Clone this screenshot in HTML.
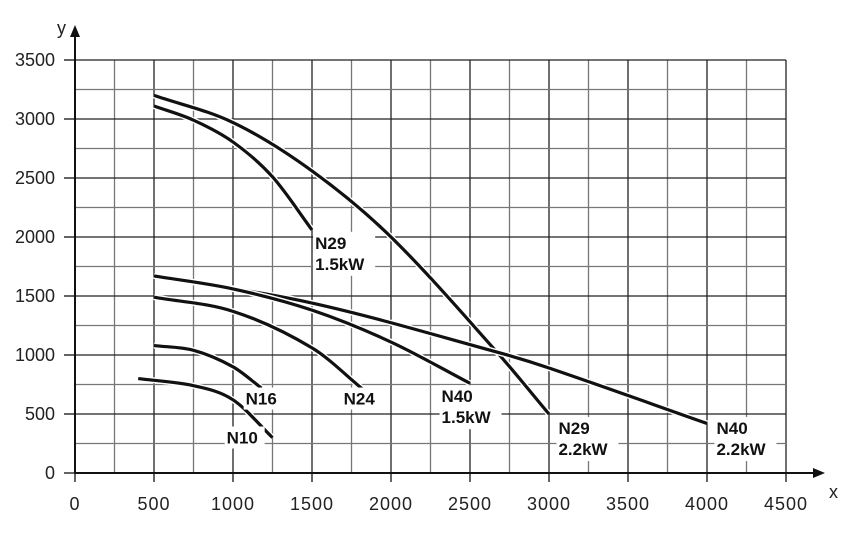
<!DOCTYPE html>
<html><head><meta charset="utf-8"><style>
body{margin:0;background:#fff}
svg{display:block;font-family:"Liberation Sans",Arial,sans-serif}
</style></head><body>
<svg id="c" width="845" height="549"></svg>
<script>
const xTicks=[0,500,1000,1500,2000,2500,3000,3500,4000,4500];
const yTicks=[0,500,1000,1500,2000,2500,3000,3500];
const seriesNames=["N29 2.2kW","N29 1.5kW","N40 2.2kW","N40 1.5kW","N24","N16","N10"];
const s29_22x=[500,1000,1500,2000,2670,3000];
const s29_22y=[3200,2970,2560,2000,1025,500];
const s29_15x=[500,750,1000,1250,1500];
const s29_15y=[3110,2990,2805,2510,2060];
const s40_22x=[500,1500,2670,3000,4000];
const s40_22y=[1670,1440,1025,890,420];
const s40_15x=[500,1000,1500,2000,2500];
const s40_15y=[1670,1560,1380,1110,760];
const s24x=[500,1000,1500,1830];
const s24y=[1490,1370,1060,700];
const s16x=[500,750,1000,1180];
const s16y=[1080,1040,900,720];
const s10x=[400,750,1000,1250];
const s10y=[800,740,620,300];
const labels=[["N29","1.5kW",1520,1900],["N16","",1080,580],["N24","",1700,580],["N40","1.5kW",2320,600],["N29","2.2kW",3060,330],["N40","2.2kW",4060,330],["N10","",960,250]];

const NS="http://www.w3.org/2000/svg";
const svg=document.getElementById('c');
const X=v=>75+v*0.158, Y=v=>473-v*0.118;
function el(t,a,p){const e=document.createElementNS(NS,t);for(const k in a)e.setAttribute(k,a[k]);(p||svg).appendChild(e);return e;}
for(let v=0;v<=4500;v+=250){const l=el('line',{x1:X(v),x2:X(v),y1:Y(3500),y2:Y(0),stroke:v%500?'#777':'#222','stroke-width':1.3});

}
for(let v=0;v<=3500;v+=250){const l=el('line',{x1:X(0),x2:X(4500),y1:Y(v),y2:Y(v),stroke:v%500?'#777':'#222','stroke-width':1.3});

}
const ax=el('path',{d:`M${X(0)},${Y(0)}H815 M${X(0)},${Y(0)}V35`,stroke:'#111','stroke-width':2,fill:'none'});


el('path',{d:'M825,473 l-12,-5 v10z',fill:'#111'});
el('path',{d:`M${X(0)},25 l-5,12 h10z`,fill:'#111'});
const xt=el('text',{x:829,y:498,'font-size':18,fill:'#222'});xt.textContent='x';


const yt=el('text',{x:57,y:34,'font-size':18,fill:'#222'});yt.textContent='y';


xTicks.forEach(v=>{el('line',{x1:X(v),x2:X(v),y1:Y(0),y2:Y(0)+9,stroke:'#111','stroke-width':1.3});
const t=el('text',{x:X(v),y:510,'font-size':18,'text-anchor':'middle',fill:'#222','letter-spacing':1});t.textContent=v;

});
yTicks.forEach(v=>{el('line',{x1:X(0)-11,x2:X(0),y1:Y(v),y2:Y(v),stroke:'#111','stroke-width':1.3});
const t=el('text',{x:55,y:Y(v)+6,'font-size':18,'text-anchor':'end',fill:'#222'});t.textContent=v;

});
const data=[[s29_22x,s29_22y],[s29_15x,s29_15y],[s40_22x,s40_22y],[s40_15x,s40_15y],[s24x,s24y],[s16x,s16y],[s10x,s10y]];
function smooth(xs,ys){const p=xs.map((x,i)=>[X(x),Y(ys[i])]);const n=p.length;
const m=p.map((q,i)=>{const a=p[Math.max(i-1,0)],b=p[Math.min(i+1,n-1)];return (b[1]-a[1])/(b[0]-a[0]);});
let d=`M${p[0][0]},${p[0][1]}`;
for(let i=0;i<n-1;i++){const h=(p[i+1][0]-p[i][0])/3;
d+=` C${p[i][0]+h},${p[i][1]+m[i]*h} ${p[i+1][0]-h},${p[i+1][1]-m[i+1]*h} ${p[i+1][0]},${p[i+1][1]}`;}return d;}
data.forEach((s,i)=>{el('path',{d:smooth(s[0],s[1]),stroke:'#fff','stroke-width':6,fill:'none'});
const p=el('path',{d:smooth(s[0],s[1]),stroke:'#111','stroke-width':3.2,fill:'none'});

});
labels.forEach(l=>{const x=X(l[2]),y=Y(l[3]);const w=l[1]?62:40,h=l[1]?44:22;
el('rect',{x:x-2,y:y-17,width:w,height:h,fill:'#fff'});
const t=el('text',{x:x,y:y,'font-size':17,'font-weight':'bold',fill:'#111'});t.textContent=l[0];


if(l[1]){const t2=el('text',{x:x,y:y+21,'font-size':17,'font-weight':'bold',fill:'#111'});t2.textContent=l[1];

}});
</script>
</body></html>
